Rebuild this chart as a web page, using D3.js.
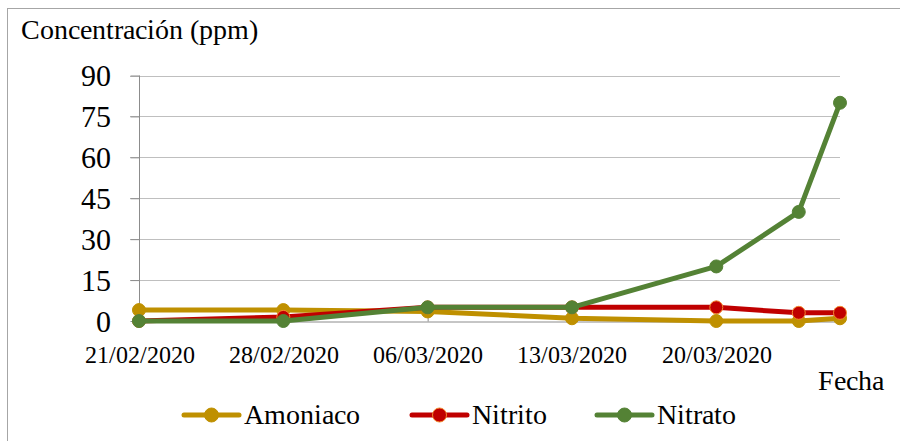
<!DOCTYPE html>
<html>
<head>
<meta charset="utf-8">
<script src="https://cdn.jsdelivr.net/npm/d3@7"></script>
<style>
  @font-face { font-family: "ChartSerif"; src: local("Liberation Serif"), local("LiberationSerif"), local("Times New Roman"); }
  body { margin: 0; background: #fff; }
  #chart text { font-family: "ChartSerif", "Liberation Serif", serif !important; }
</style>
</head>
<body>
<svg id="chart" width="900" height="441"></svg>
<script>
// Sampling dates and measured concentrations (ppm)
const fechas = ["21/02/2020", "28/02/2020", "06/03/2020", "13/03/2020", "20/03/2020", "24/03/2020", "26/03/2020"];
const amoniaco = [4, 4, 3.5, 1, 0, 0, 1];
const nitrito = [0, 1.5, 5, 5, 5, 3, 3];
const nitrato = [0, 0, 5, 5, 20, 40, 80];

const xTickLabels = ["21/02/2020", "28/02/2020", "06/03/2020", "13/03/2020", "20/03/2020"];
const yTicks = [0, 15, 30, 45, 60, 75, 90];

const seriesNames = ["Amoniaco", "Nitrito", "Nitrato"];
const seriesColors = ["#BF9000", "#C00000", "#548235"];
const markerStroke = ["#BF9000", "#F4892F", "#548235"];

const parse = d3.utcParse("%d/%m/%Y");
const fmt = d3.utcFormat("%d/%m/%Y");
const dates = fechas.map(parse);
const seriesValues = [amoniaco, nitrito, nitrato];

const svg = d3.select("#chart");

// Outer chart frame
svg.append("rect")
  .attr("x", 7.5).attr("y", 8.5)
  .attr("width", 900).attr("height", 440)
  .attr("fill", "#fff").attr("stroke", "#A6A6A6").attr("stroke-width", 1);

const x = d3.scaleUtc()
  .domain([parse("21/02/2020"), parse("26/03/2020")])
  .range([139, 840]);
const y = d3.scaleLinear().domain([0, 90]).range([321, 75.5]);

// Horizontal gridlines
svg.append("g").selectAll("line")
  .data(yTicks.filter(d => d > 0))
  .join("line")
  .attr("x1", 130).attr("x2", 840)
  .attr("y1", d => Math.round(y(d)) + 0.5).attr("y2", d => Math.round(y(d)) + 0.5)
  .attr("stroke", "#BFBFBF").attr("stroke-width", 1);

// Y axis
const yAxis = svg.append("g")
  .attr("transform", "translate(139.5,0)")
  .call(d3.axisLeft(y).tickValues(yTicks).tickSize(9).tickPadding(20).tickFormat(d3.format("d")));
yAxis.attr("font-family", null).attr("font-size", null);
yAxis.select(".domain").attr("stroke", "#8C8C8C").attr("d", `M0,${y(90)}V${y(0)}`);
yAxis.selectAll(".tick line").attr("stroke", "#8C8C8C");
yAxis.selectAll(".tick text")
  .style("font-size", "30px").attr("fill", "#000").attr("dy", "0.34em");

// X axis with inward ticks
const xAxis = svg.append("g")
  .attr("transform", `translate(0,${Math.round(y(0)) + 0.5})`)
  .call(d3.axisBottom(x).tickValues(xTickLabels.map(parse)).tickSizeInner(-8).tickSizeOuter(0).tickPadding(24).tickFormat(fmt));
xAxis.attr("font-family", null).attr("font-size", null);
xAxis.select(".domain").attr("stroke", "#8C8C8C");
xAxis.selectAll(".tick line").attr("stroke", "#8C8C8C");
xAxis.selectAll(".tick text")
  .style("font-size", "24px").attr("fill", "#000");

// Series lines and markers
const line = d3.line().x((d, i) => x(dates[i])).y(d => y(d));
seriesValues.forEach((vals, s) => {
  const g = svg.append("g");
  g.append("path")
    .attr("d", line(vals))
    .attr("fill", "none")
    .attr("stroke", seriesColors[s])
    .attr("stroke-width", 5)
    .attr("stroke-linejoin", "round");
  g.selectAll("circle")
    .data(vals)
    .join("circle")
    .attr("cx", (d, i) => x(dates[i]))
    .attr("cy", d => y(d))
    .attr("r", 6.5)
    .attr("fill", seriesColors[s])
    .attr("stroke", markerStroke[s])
    .attr("stroke-width", 1);
});

// Axis titles
svg.append("text").attr("x", 21).attr("y", 39)
  .style("font-size", "27.5px").attr("fill", "#000")
  .text("Concentración (ppm)");
svg.append("text").attr("x", 818).attr("y", 390)
  .style("font-size", "28px").attr("fill", "#000")
  .text("Fecha");

// Legend
const legendX = [184, 412, 597];
const legend = svg.append("g");
seriesNames.forEach((name, s) => {
  const lx = legendX[s];
  legend.append("line")
    .attr("x1", lx).attr("x2", lx + 55)
    .attr("y1", 415).attr("y2", 415)
    .attr("stroke", seriesColors[s]).attr("stroke-width", 5).attr("stroke-linecap", "round");
  legend.append("circle")
    .attr("cx", lx + 27.5).attr("cy", 415).attr("r", 7)
    .attr("fill", seriesColors[s]).attr("stroke", markerStroke[s]).attr("stroke-width", 1);
  legend.append("text")
    .attr("x", lx + 60).attr("y", 424)
    .style("font-size", "28px").attr("fill", "#000")
    .text(name);
});
</script>
</body>
</html>
